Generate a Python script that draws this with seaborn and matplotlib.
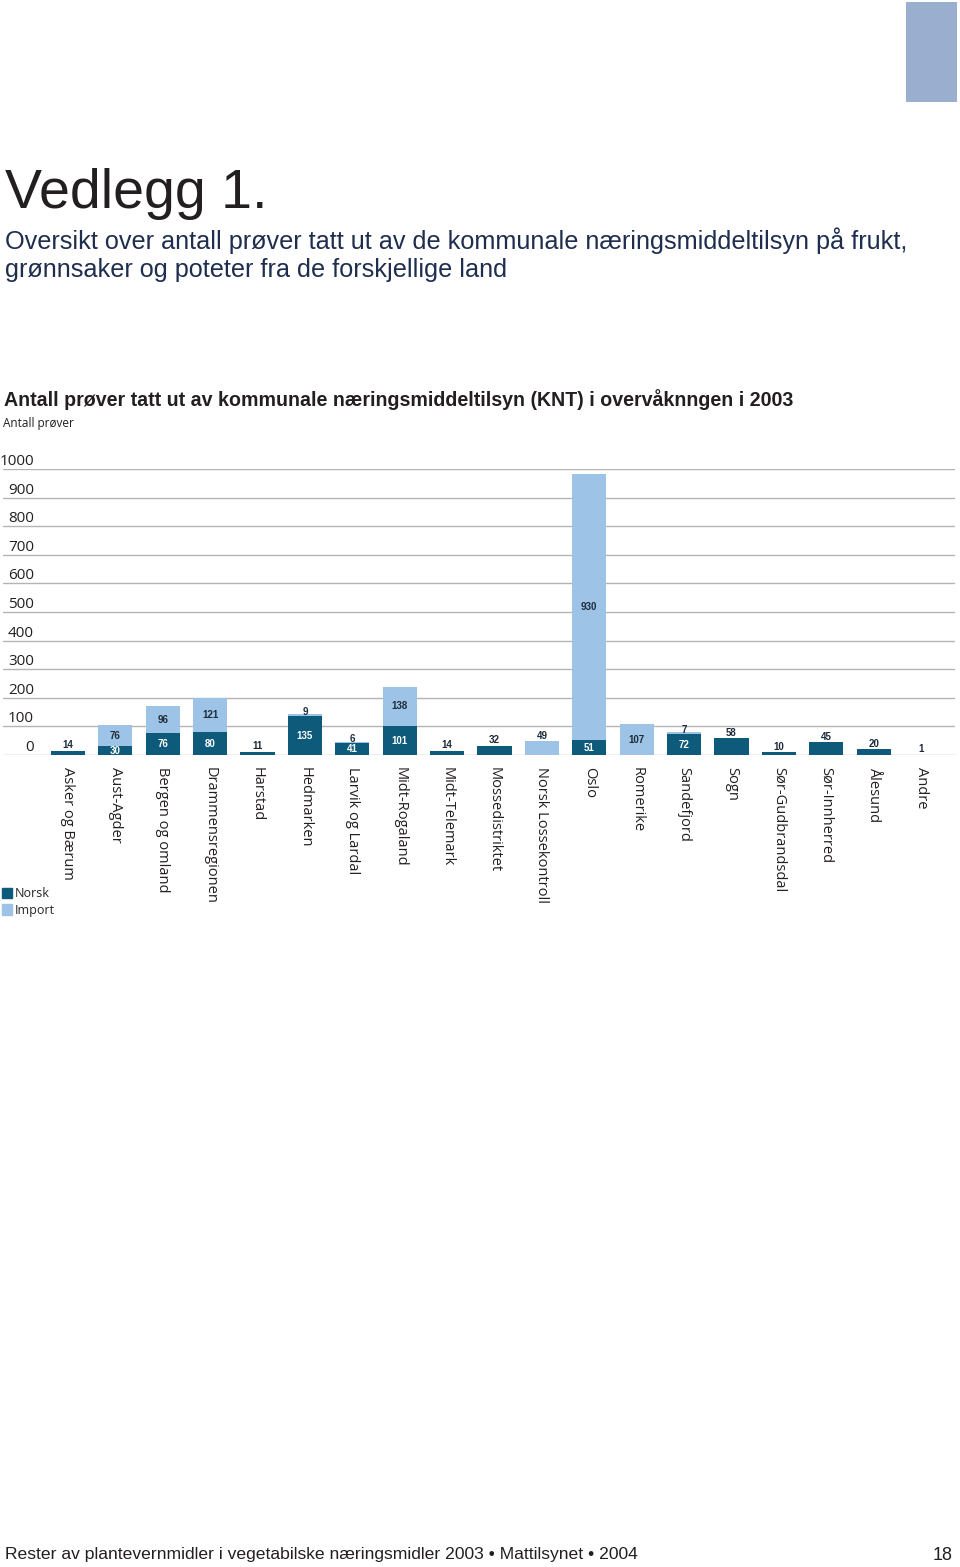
import matplotlib
matplotlib.use("Agg")
import matplotlib.pyplot as plt
import matplotlib.transforms as mtransforms
from matplotlib.patches import Rectangle, Patch
import seaborn as sns

# Data lest av figuren
kategorier = ["Asker og Bærum", "Aust-Agder", "Bergen og omland", "Drammensregionen",
              "Harstad", "Hedmarken", "Larvik og Lardal", "Midt-Rogaland", "Midt-Telemark",
              "Mossedistriktet", "Norsk Lossekontroll", "Oslo", "Romerike", "Sandefjord",
              "Sogn", "Sør-Gudbrandsdal", "Sør-Innherred", "Ålesund", "Andre"]
norsk = [14, 30, 76, 80, 11, 135, 41, 101, 14, 32, 0, 51, 0, 72, 58, 10, 45, 20, 1]
import_ = [0, 76, 96, 121, 0, 9, 6, 138, 0, 0, 49, 930, 107, 7, 0, 0, 0, 0, 0]
y_ticks = [0, 100, 200, 300, 400, 500, 600, 700, 800, 900, 1000]

total = [n + i for n, i in zip(norsk, import_)]

NORSK_COL = "#0d5a7a"
IMPORT_COL = "#9dc3e6"
TXT = "#231f20"
LABEL_TXT = "#1d2b3a"

sns.set_style("white")
plt.rcParams["font.family"] = ["Liberation Sans", "DejaVu Sans"]

W, H = 960, 1567
fig = plt.figure(figsize=(W / 100, H / 100), dpi=100)

# akse: x 3..955 px, y 469 (1000) .. 755 (0)
ax = fig.add_axes([3 / W, 1 - 755 / H, 952 / W, 286 / H])

sns.barplot(x=kategorier, y=total, color=IMPORT_COL, saturation=1, width=0.72,
            linewidth=0, ax=ax)
sns.barplot(x=kategorier, y=norsk, color=NORSK_COL, saturation=1, width=0.72,
            linewidth=0, ax=ax)

ax.set_ylim(0, 1000)
ax.set_xlim(-1.371, 18.717)
for s in ax.spines.values():
    s.set_visible(False)
ax.set_yticks(y_ticks)
ax.set_yticklabels([])
ax.tick_params(axis="y", length=0)
ax.yaxis.grid(True, color="#b4b4b4", linewidth=1.0)
ax.set_axisbelow(True)
ax.set_xlabel("")
ax.set_ylabel("")
ax.tick_params(axis="x", length=0, pad=9)
ax.set_xticks(range(len(kategorier)))
ax.set_xticklabels(kategorier, rotation=-90, ha="center", va="top",
                   fontsize=10.5, family=["Open Sans", "DejaVu Sans"], color=TXT)

# y-etiketter over gridlinjene
trans = mtransforms.blended_transform_factory(ax.transAxes, ax.transData)
for v in y_ticks:
    ax.text(0.0326, v, str(v), transform=trans, ha="right", va="bottom",
            fontsize=11, family=["Open Sans", "DejaVu Sans"], color=TXT)

# verdietiketter
lab_kw = dict(fontsize=7, fontweight="bold", ha="center", va="center",
              textcoords="offset points")
for i, (n, imp) in enumerate(zip(norsk, import_)):
    if imp > 0:
        if n > 0:
            ax.annotate(str(n), (i, n / 2), xytext=(0, 0), color="white", **lab_kw)
        if imp >= 50:
            ax.annotate(str(imp), (i, n + imp / 2), xytext=(0, 0), color=LABEL_TXT, **lab_kw)
        elif n > 0:
            ax.annotate(str(imp), (i, n + imp), xytext=(0, 1.5), color=LABEL_TXT, **lab_kw)
        else:
            ax.annotate(str(imp), (i, n + imp), xytext=(0, 3.5), color=LABEL_TXT, **lab_kw)
    else:
        ax.annotate(str(n), (i, n), xytext=(0, 4), color=LABEL_TXT, **lab_kw)

# legend
handles = [Patch(color=NORSK_COL, label="Norsk"), Patch(color=IMPORT_COL, label="Import")]
fig.legend(handles=handles, loc="upper left", bbox_to_anchor=(2 / W, 1 - 887 / H),
           frameon=False, handlelength=0.8, handleheight=0.9,
           handletextpad=0.25, borderpad=0, borderaxespad=0, labelspacing=0.3,
           prop={"family": ["Open Sans", "DejaVu Sans"], "size": 9})

# tekster på siden
fig.text(5 / W, 1 - 208 / H, "Vedlegg 1.", fontsize=40, color=TXT, va="baseline")
fig.text(5 / W, 1 - 249 / H,
         "Oversikt over antall prøver tatt ut av de kommunale næringsmiddeltilsyn på frukt,",
         fontsize=18.2, color="#1f2d4f", va="baseline")
fig.text(5 / W, 1 - 277 / H, "grønnsaker og poteter fra de forskjellige land",
         fontsize=18.2, color="#1f2d4f", va="baseline")
fig.text(4 / W, 1 - 400 / H,
         "Antall prøver tatt ut av kommunale næringsmiddeltilsyn (KNT) i overvåknngen i 2003",
         fontsize=14.1, fontweight="bold", color=TXT, va="center")
fig.text(3 / W, 1 - 424 / H, "Antall prøver", fontsize=8.5, color=TXT, va="center",
         family=["Open Sans", "DejaVu Sans"])
fig.text(5 / W, 1 - 1555 / H,
         "Rester av plantevernmidler i vegetabilske næringsmidler 2003 • Mattilsynet • 2004",
         fontsize=12.6, color=TXT, va="center", family=["Liberation Sans Narrow", "Liberation Sans"])
fig.text(953 / W, 1 - 1555 / H, "18", fontsize=13, color=TXT, va="center", ha="right",
         family=["Liberation Sans Narrow", "Liberation Sans"])

# blå firkant øverst til høyre
fig.patches.append(Rectangle((906 / W, 1 - 102 / H), 51 / W, 100 / H,
                             transform=fig.transFigure, facecolor="#9aaecf",
                             edgecolor="none"))

fig.savefig("out.png", dpi=100)
